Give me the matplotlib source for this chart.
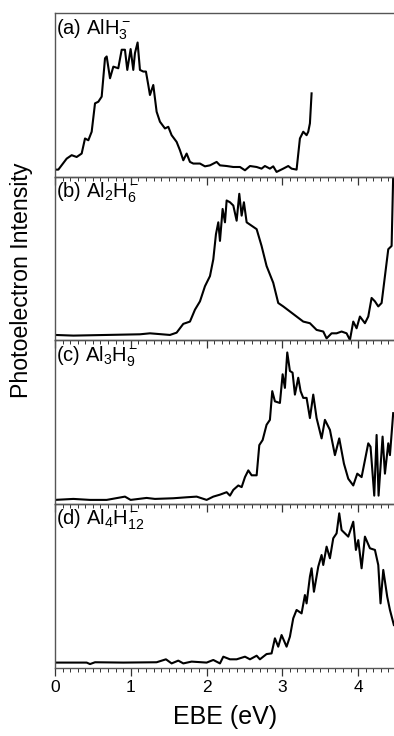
import matplotlib
matplotlib.use("Agg")
import matplotlib.pyplot as plt
from matplotlib.ticker import MultipleLocator

plt.rcParams['font.family'] = ['Liberation Sans', 'DejaVu Sans']
plt.rcParams['mathtext.fontset'] = 'custom'
plt.rcParams['mathtext.rm'] = 'Liberation Sans'
plt.rcParams['mathtext.it'] = 'Liberation Sans'

# (a) AlH3-  -- EBE (eV) vs normalised intensity
ebe_a = [0.00, 0.044, 0.154, 0.22, 0.286, 0.352, 0.396, 0.44, 0.484, 0.528,
         0.572, 0.616, 0.66, 0.682, 0.726, 0.77, 0.835, 0.88, 0.923, 0.954,
         0.998, 1.033, 1.055, 1.09, 1.121, 1.165, 1.2, 1.231, 1.253, 1.297,
         1.341, 1.385, 1.451, 1.495, 1.539, 1.605, 1.649, 1.693, 1.737, 1.781,
         1.825, 1.913, 1.979, 2.045, 2.133, 2.177, 2.265, 2.353, 2.441, 2.507,
         2.573, 2.661, 2.726, 2.77, 2.836, 2.88, 2.924, 3.012, 3.078, 3.122,
         3.188, 3.232, 3.276, 3.32, 3.342, 3.364, 3.386]
int_a = [0.045, 0.045, 0.112, 0.133, 0.122, 0.143, 0.235, 0.224, 0.276, 0.449,
         0.459, 0.49, 0.724, 0.735, 0.602, 0.673, 0.663, 0.776, 0.776, 0.653,
         0.78, 0.653, 0.755, 0.82, 0.653, 0.643, 0.643, 0.561, 0.5, 0.561,
         0.398, 0.337, 0.296, 0.306, 0.255, 0.214, 0.163, 0.102, 0.143, 0.092,
         0.082, 0.082, 0.065, 0.071, 0.092, 0.071, 0.067, 0.061, 0.061, 0.041,
         0.067, 0.061, 0.051, 0.067, 0.051, 0.065, 0.031, 0.051, 0.067, 0.051,
         0.045, 0.235, 0.276, 0.255, 0.276, 0.327, 0.51]

# (b) Al2H6-
ebe_b = [0.00, 0.242, 0.682, 1.121, 1.253, 1.517, 1.605, 1.693, 1.781, 1.847,
         1.913, 1.979, 2.045, 2.089, 2.124, 2.155, 2.177, 2.212, 2.243, 2.265,
         2.309, 2.353, 2.397, 2.432, 2.463, 2.493, 2.529, 2.595, 2.661, 2.726,
         2.792, 2.88, 2.946, 3.012, 3.1, 3.188, 3.276, 3.364, 3.452, 3.54,
         3.584, 3.65, 3.716, 3.782, 3.848, 3.892, 3.936, 3.98, 4.024, 4.09,
         4.134, 4.178, 4.222, 4.266, 4.31, 4.354, 4.398, 4.442, 4.463, 4.48]
int_b = [0.031, 0.027, 0.031, 0.035, 0.041, 0.031, 0.045, 0.099, 0.113, 0.186,
         0.237, 0.33, 0.392, 0.495, 0.649, 0.722, 0.608, 0.804, 0.722, 0.856,
         0.845, 0.825, 0.732, 0.897, 0.763, 0.845, 0.722, 0.701, 0.68, 0.577,
         0.454, 0.351, 0.227, 0.206, 0.175, 0.144, 0.113, 0.103, 0.062, 0.052,
         0.01, 0.041, 0.041, 0.052, 0.041, 0.0, 0.113, 0.072, 0.144, 0.103,
         0.144, 0.258, 0.237, 0.206, 0.227, 0.392, 0.557, 0.577, 1.01, 1.3]

# (c) Al3H9-
ebe_c = [0.00, 0.242, 0.462, 0.682, 0.923, 0.998, 1.209, 1.319, 1.561, 1.737,
         1.869, 2.001, 2.089, 2.177, 2.265, 2.309, 2.353, 2.419, 2.463, 2.507,
         2.551, 2.595, 2.661, 2.696, 2.74, 2.792, 2.836, 2.867, 2.902, 2.968,
         3.004, 3.034, 3.065, 3.1, 3.135, 3.166, 3.21, 3.241, 3.276, 3.32,
         3.364, 3.408, 3.452, 3.518, 3.562, 3.628, 3.694, 3.751, 3.813, 3.87,
         3.936, 3.989, 4.046, 4.134, 4.164, 4.213, 4.244, 4.27, 4.323, 4.354,
         4.398, 4.42, 4.463]
int_c = [0.025, 0.031, 0.025, 0.025, 0.045, 0.025, 0.037, 0.031, 0.035, 0.041,
         0.045, 0.025, 0.045, 0.057, 0.072, 0.051, 0.086, 0.113, 0.103, 0.164,
         0.205, 0.175, 0.175, 0.359, 0.39, 0.483, 0.513, 0.688, 0.626, 0.616,
         0.791, 0.708, 0.924, 0.811, 0.801, 0.667, 0.77, 0.688, 0.647, 0.647,
         0.524, 0.667, 0.524, 0.4, 0.513, 0.452, 0.298, 0.4, 0.246, 0.154,
         0.113, 0.185, 0.164, 0.37, 0.349, 0.051, 0.421, 0.051, 0.411, 0.185,
         0.37, 0.298, 0.554]

# (d) Al4H12-
ebe_d = [0.00, 0.418, 0.462, 0.528, 0.901, 1.341, 1.464, 1.539, 1.627, 1.693,
         1.803, 2.001, 2.089, 2.177, 2.221, 2.309, 2.397, 2.507, 2.573, 2.661,
         2.704, 2.792, 2.858, 2.902, 2.946, 2.99, 3.056, 3.1, 3.144, 3.188,
         3.254, 3.298, 3.32, 3.364, 3.386, 3.417, 3.474, 3.518, 3.54, 3.584,
         3.628, 3.672, 3.716, 3.751, 3.782, 3.826, 3.87, 3.936, 3.971, 4.002,
         4.046, 4.09, 4.156, 4.222, 4.266, 4.296, 4.332, 4.384, 4.42, 4.472]
int_d = [0.033, 0.033, 0.024, 0.035, 0.033, 0.035, 0.053, 0.028, 0.045, 0.028,
         0.039, 0.033, 0.049, 0.028, 0.069, 0.053, 0.053, 0.069, 0.053, 0.075,
         0.053, 0.085, 0.089, 0.181, 0.13, 0.201, 0.13, 0.191, 0.303, 0.354,
         0.333, 0.445, 0.394, 0.557, 0.608, 0.465, 0.618, 0.689, 0.628, 0.74,
         0.669, 0.791, 0.821, 0.943, 0.841, 0.821, 0.801, 0.892, 0.72, 0.78,
         0.608, 0.801, 0.73, 0.72, 0.628, 0.394, 0.598, 0.435, 0.354, 0.262]

labels = [r"(a) AlH$_3^-$", r"(b) Al$_2$H$_6^-$",
          r"(c) Al$_3$H$_9^-$", r"(d) Al$_4$H$_{12}^-$"]
series = [(ebe_a, int_a), (ebe_b, int_b), (ebe_c, int_c), (ebe_d, int_d)]

W, H = 394, 736
fig = plt.figure(figsize=(W / 100, H / 100), dpi=100)

# panel rows in pixels (top, bottom)
rows = [(13, 177), (177, 340), (340, 504), (504, 668)]
left_px, right_px = 55, 396

for i, ((x, y), lab, (t, b)) in enumerate(zip(series, labels, rows)):
    ax = fig.add_axes([left_px / W, 1 - b / H, (right_px - left_px) / W, (b - t) / H])
    ax.patch.set_alpha(0)  # keep the ticks of the panel above visible
    ax.plot(x, y, color='black', lw=1.5)
    ax.set_xlim(0, 4.5)
    ax.set_ylim(0, 1)
    ax.set_yticks([])
    ax.xaxis.set_major_locator(MultipleLocator(1))
    ax.xaxis.set_minor_locator(MultipleLocator(0.1))
    ax.tick_params(axis='x', which='major', direction='out', length=5.5,
                   width=0.9, color='#333333', labelsize=12.5, pad=3)
    ax.tick_params(axis='x', which='minor', direction='out', length=3,
                   width=0.7, color='#333333')
    if i < 3:
        ax.tick_params(axis='x', labelbottom=False)
    for s in ax.spines.values():
        s.set_color('#555555')
        s.set_linewidth(1.0)
    ax.text(0.004, 1 - 4 / (b - t), lab, transform=ax.transAxes,
            ha='left', va='top', fontsize=14.5)

fig.text((left_px + right_px) / 2 / W, 1 - 717 / H, 'EBE (eV)',
         ha='center', va='center', fontsize=18)
fig.text(22 / W, 1 - 280 / H, 'Photoelectron Intensity', rotation=90,
         ha='center', va='center', fontsize=16.7)

fig.savefig('out.png', dpi=100)
